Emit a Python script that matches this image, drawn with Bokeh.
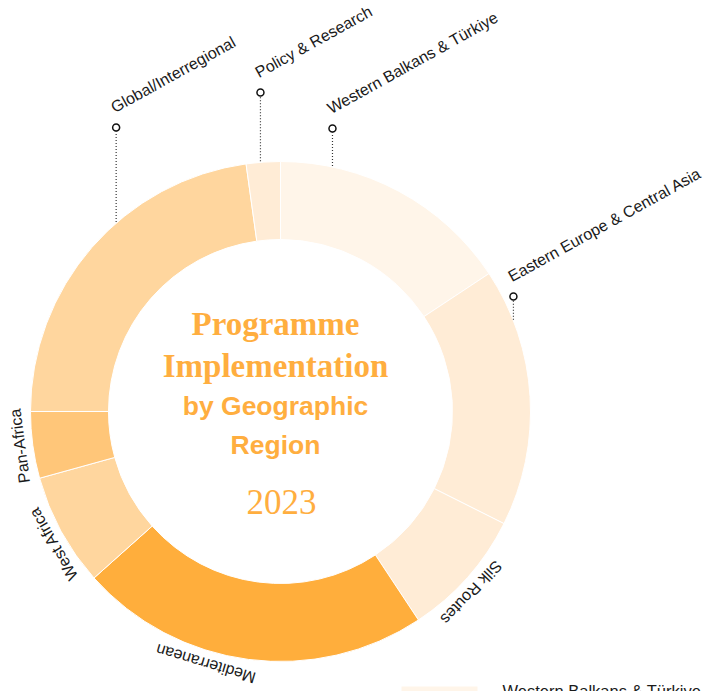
import numpy as np
from bokeh.plotting import figure
from bokeh.models import Range1d, ColumnDataSource
from bokeh.core.properties import value
from bokeh.embed import file_html
from bokeh.resources import INLINE

# ---------------- data ----------------
regions = ["Western Balkans & Türkiye", "Eastern Europe & Central Asia", "Silk Routes",
           "Mediterranean", "West Africa", "Pan-Africa", "Global/Interregional",
           "Policy & Research"]
shares = [15.7, 16.7, 8.3, 22.7, 7.3, 4.3, 22.8, 2.2]
colors = ["#fff5e9", "#ffecd6", "#ffecd6", "#ffae3c", "#ffd69e", "#ffc679", "#ffd69e", "#ffecd6"]

title_lines = ["Programme", "Implementation"]
subtitle_lines = ["by Geographic", "Region"]
year_label = "2023"

# ---------------- layout (screen px, centre of ring at 280,411) ----------------
CX, CY = 280, 411
R_IN, R_OUT = 172, 250
LABEL_R = 263
W, H = 706, 691

def sx(x):
    return x - CX

def sy(y):
    return CY - y

frac = np.array(shares) / np.sum(shares)
cw_end = np.cumsum(frac) * 360.0
cw_start = cw_end - frac * 360.0
start_angle = np.deg2rad(90 - cw_start)
end_angle = np.deg2rad(90 - cw_end)

p = figure(width=W, height=H, x_range=Range1d(sx(0), sx(W)), y_range=Range1d(sy(H), sy(0)),
           output_backend="svg", toolbar_location=None, min_border=0,
           x_axis_type=None, y_axis_type=None)
p.grid.visible = False
p.outline_line_color = None
p.background_fill_color = "white"
p.border_fill_color = "white"

src = ColumnDataSource(dict(start=start_angle, end=end_angle, color=colors, region=regions))
p.annular_wedge(x=0, y=0, inner_radius=R_IN, outer_radius=R_OUT, start_angle="start",
                end_angle="end", direction="clock", fill_color="color", line_color="white",
                line_width=1, source=src)

label_font = value("Liberation Sans")
label_color = "#1a1a1a"
label_size = "16px"

# labels around the ring (cw degrees from top)
ring_labels = {"Silk Routes": 133.5, "Mediterranean": 196.5, "West Africa": 239.8, "Pan-Africa": 262.5}
for name, cw in ring_labels.items():
    a = np.deg2rad(90 - cw)
    p.text(x=[LABEL_R * np.cos(a)], y=[LABEL_R * np.sin(a)], text=[name], angle=-cw, angle_units="deg",
           text_align="center", text_baseline="middle", text_font=label_font,
           text_font_size=label_size, text_color=label_color)

# labels with leader lines: (leader angle cw from top, marker screen y)
leader_labels = {"Global/Interregional": (318.9, 127), "Policy & Research": (355.4, 92),
                 "Western Balkans & Türkiye": (12.0, 128), "Eastern Europe & Central Asia": (68.7, 296)}
for name, (cw, my) in leader_labels.items():
    a = np.deg2rad(90 - cw)
    x0, y0 = R_OUT * np.cos(a), R_OUT * np.sin(a)
    mx, myd = x0, sy(my)
    p.line(x=[x0, x0], y=[y0 + 1, myd - 4], line_color="#333333", line_width=1.2, line_dash="1 2")
    p.scatter(x=[mx], y=[myd], size=7, marker="circle", fill_color="white", line_color="#111111",
              line_width=1.5)
    p.text(x=[mx - 4], y=[myd + 19], text=[name], angle=29, angle_units="deg",
           text_align="left", text_baseline="alphabetic", text_font=label_font,
           text_font_size=label_size, text_color=label_color)

# centre text
orange = "#ffae3f"
p.text(x=[sx(275)] * 2, y=[sy(323), sy(365)], text=title_lines, text_align="center",
       text_baseline="alphabetic", text_font=value("Liberation Serif"), text_font_style="bold",
       text_font_size="33px", text_color=orange)
p.text(x=[sx(275)] * 2, y=[sy(405), sy(444)], text=subtitle_lines, text_align="center",
       text_baseline="alphabetic", text_font=value("Liberation Sans"), text_font_style="bold",
       text_font_size="26.5px", text_color=orange)
p.text(x=[sx(281)], y=[sy(501)], text=[year_label], text_align="center",
       text_baseline="alphabetic", text_font=value("Liberation Serif"),
       text_font_size="35px", text_color=orange)

# legend (cut off at the bottom of the page)
p.rect(x=[sx(439)], y=[sy(693)], width=76, height=14, fill_color=colors[0], line_color=None)
p.text(x=[sx(502)], y=[sy(690)], text=[regions[0]], text_align="left", text_baseline="alphabetic",
       text_font=label_font, text_font_size="16.5px", text_color=label_color)

open("out.html", "w").write(file_html(p, INLINE))
